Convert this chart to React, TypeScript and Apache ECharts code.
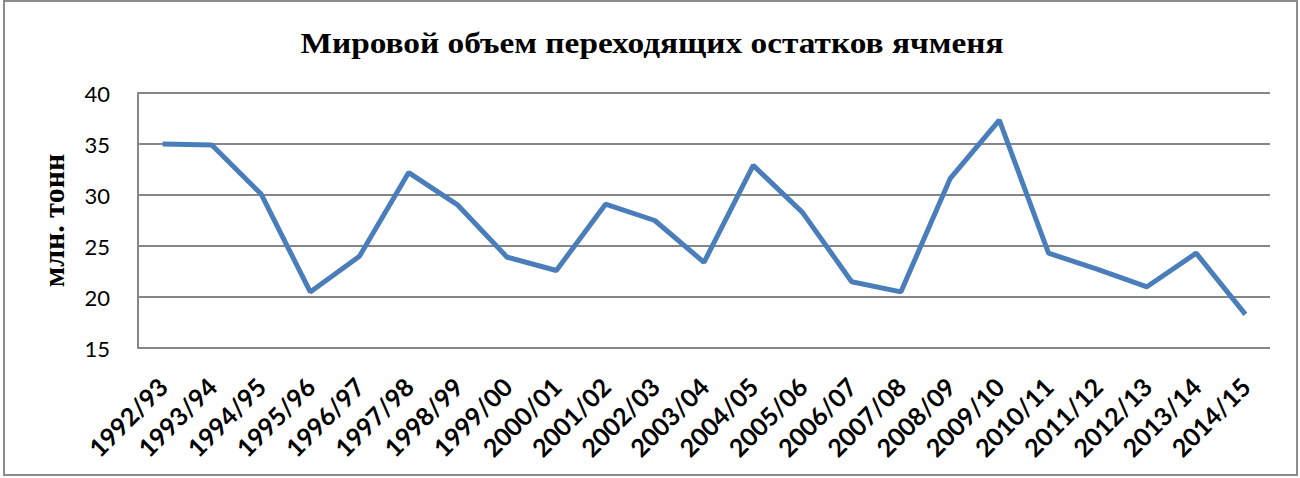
import React, { useEffect, useRef } from "react";
import * as echarts from "echarts";

const categories = [
  "1992/93", "1993/94", "1994/95", "1995/96", "1996/97", "1997/98", "1998/99",
  "1999/00", "2000/01", "2001/02", "2002/03", "2003/04", "2004/05", "2005/06",
  "2006/07", "2007/08", "2008/09", "2009/10", "2010/11", "2011/12", "2012/13",
  "2013/14", "2014/15",
];
const stocks = [
  35.0, 34.9, 30.1, 20.5, 24.0, 32.2, 29.0, 23.9, 22.6, 29.1, 27.5, 23.4, 32.9,
  28.3, 21.5, 20.5, 31.6, 37.35, 24.3, 22.7, 21.0, 24.3, 18.3,
];
const titleText = "Мировой объем переходящих остатков ячменя";
const yAxisName = "млн. тонн";

export default function App() {
  const ref = useRef<HTMLDivElement>(null);
  useEffect(() => {
    if (!ref.current) return;
    const chart = echarts.init(ref.current, undefined, { renderer: "svg" });
    chart.setOption({
      animation: false,
      backgroundColor: "#ffffff",
      graphic: [
        {
          type: "rect",
          shape: { x: 4, y: 1, width: 1293, height: 474 },
          style: { fill: "none", stroke: "#8c8c8c", lineWidth: 2 },
          silent: true,
        },
        {
          type: "text",
          x: 652,
          y: 43,
          scaleX: 1.15,
          style: {
            text: titleText,
            fontFamily: "Liberation Serif",
            fontWeight: "bold",
            fontSize: 29,
            fill: "#000000",
            align: "center",
            verticalAlign: "middle",
          },
          silent: true,
        },
      ],
      grid: { left: 138, right: 30, top: 93, bottom: 130 },
      xAxis: {
        type: "category",
        data: categories,
        boundaryGap: true,
        axisLine: { show: false },
        axisTick: { show: false },
        axisLabel: {
          rotate: 45,
          interval: 0,
          margin: 34,
          fontFamily: "Lato",
          fontWeight: "bold",
          fontSize: 25,
          color: "#000000",
        },
      },
      yAxis: {
        type: "value",
        min: 15,
        max: 40,
        interval: 5,
        name: yAxisName,
        nameLocation: "middle",
        nameGap: 70,
        nameRotate: 90,
        nameTextStyle: {
          fontFamily: "Liberation Serif",
          fontWeight: "bold",
          fontSize: 30,
          color: "#000000",
        },
        axisLine: { show: true, lineStyle: { color: "#868686", width: 2 } },
        axisTick: { show: false },
        axisLabel: {
          margin: 28,
          fontFamily: "Lato",
          fontSize: 22,
          color: "#000000",
        },
        splitLine: { show: true, lineStyle: { color: "#868686", width: 2 } },
      },
      series: [
        {
          type: "line",
          data: stocks,
          symbol: "none",
          lineStyle: { color: "#4a7ebb", width: 5 },
        },
      ],
    });
    return () => chart.dispose();
  }, []);
  return (
    <div
      ref={ref}
      style={{ position: "fixed", left: 0, top: 0, width: 1300, height: 478 }}
    />
  );
}
